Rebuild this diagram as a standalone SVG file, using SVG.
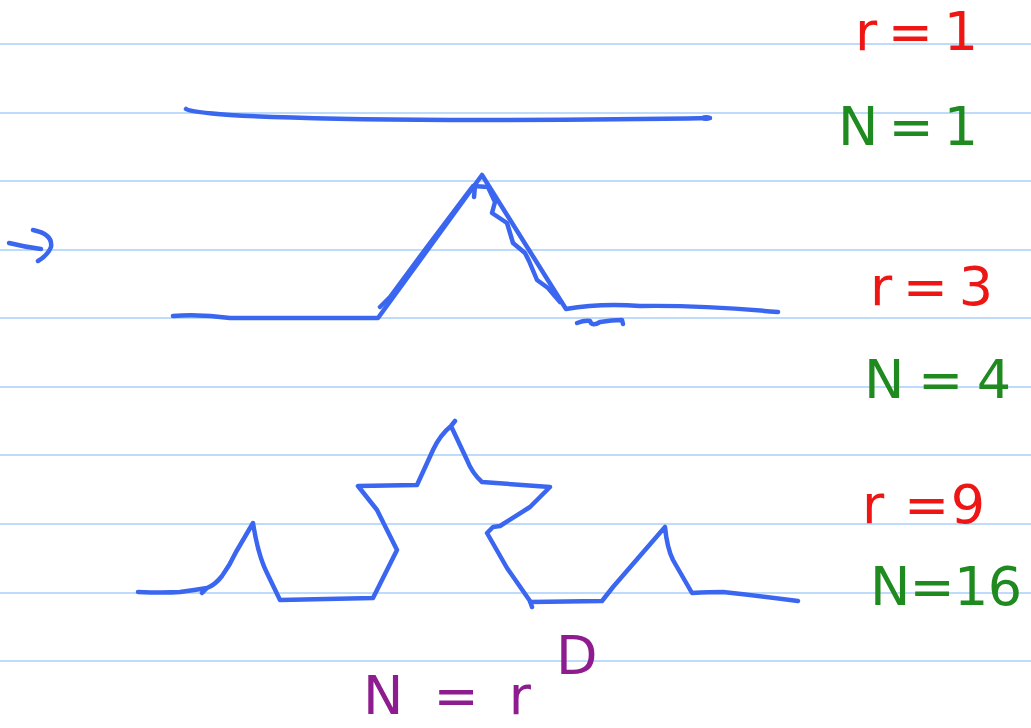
<svg xmlns="http://www.w3.org/2000/svg" width="1031" height="728" viewBox="0 0 1031 728">
<style>
.rule{stroke:#a9d0f7;stroke-width:1.5;fill:none}
.ink{stroke:#3a66f0;stroke-width:4.5;fill:none;stroke-linecap:round;stroke-linejoin:round}
.t{font-family:"DejaVu Sans","Liberation Sans",sans-serif;font-size:54px}
.red{fill:#ee1515}
.green{fill:#1f8a1f}
.purple{fill:#8e1c8e}
</style>
<rect width="1031" height="728" fill="#ffffff"/>
<g id="rules">
<line class="rule" x1="0" y1="44" x2="1031" y2="44"/>
<line class="rule" x1="0" y1="113" x2="1031" y2="113"/>
<line class="rule" x1="0" y1="181" x2="1031" y2="181"/>
<line class="rule" x1="0" y1="250" x2="1031" y2="250"/>
<line class="rule" x1="0" y1="318" x2="1031" y2="318"/>
<line class="rule" x1="0" y1="387" x2="1031" y2="387"/>
<line class="rule" x1="0" y1="455" x2="1031" y2="455"/>
<line class="rule" x1="0" y1="524" x2="1031" y2="524"/>
<line class="rule" x1="0" y1="593" x2="1031" y2="593"/>
<line class="rule" x1="0" y1="661" x2="1031" y2="661"/>
</g>
<g id="stage1">
<path class="ink" d="M186,109 Q190,112 230,115 Q300,119 450,120 Q600,120 710,118"/>
<ellipse cx="706" cy="118" rx="6" ry="3" fill="#3a66f0"/>
</g>
<g id="arrow">
<path class="ink" d="M9,243 Q25,247 41,249"/>
<path class="ink" d="M33,230 Q53,234 51,247 Q48,255 38,261"/>
</g>
<g id="stage2">
<path class="ink" d="M173,316 Q200,314 230,318 L378,318 L482,175 L566,309 Q600,303 640,306 Q700,305 778,312"/>
<path class="ink" d="M380,307 L390,297 L430,243 L473,186 L488,187 L495,202 L492,213 L507,223 L513,243 L525,253 L529,261 L537,280 L548,288 L560,302"/>
<path class="ink" d="M475,186 L474,197"/>
<path class="ink" d="M577,323 Q585,320 590,321 Q592,327 600,322 Q612,320 622,320 L623,324"/>
</g>
<g id="stage3">
<path class="ink" d="M138,592 Q165,593 180,592 Q195,590 207,588 L202,593 M207,588 Q215,585 222,576 Q230,565 236,552 L253,523 Q258,555 267,573 L280,600 L373,598 L397,550 L377,510 L358,486 L417,485 L433,450 Q440,435 451,426 L455,421 M451,426 L467,460 Q472,473 482,482 L550,487 L530,507 L500,526 L493,527 L487,533 L507,568 L530,601 L532,607 M530,602 L602,601 L613,587 L665,527 Q667,548 673,560 L692,593 Q710,592 723,592 Q760,596 798,601"/>
</g>
<g id="labels">
<text class="t red" x="855" y="50" textLength="123" lengthAdjust="spacing">r = 1</text>
<text class="t green" x="838" y="145" font-size="60" textLength="140" lengthAdjust="spacing">N=1</text>
<text class="t red" x="870" y="305" textLength="123" lengthAdjust="spacing">r = 3</text>
<text class="t green" x="864" y="398" textLength="147" lengthAdjust="spacing">N = 4</text>
<text class="t red" x="862" y="523" textLength="123" lengthAdjust="spacing">r =9</text>
<text class="t green" x="870" y="605" font-size="58" textLength="152" lengthAdjust="spacing">N=16</text>
<text class="t purple" x="363" y="714" font-size="50" textLength="168" lengthAdjust="spacing">N = r</text>
<text class="t purple" x="556" y="674" font-size="40">D</text>
</g>
</svg>
